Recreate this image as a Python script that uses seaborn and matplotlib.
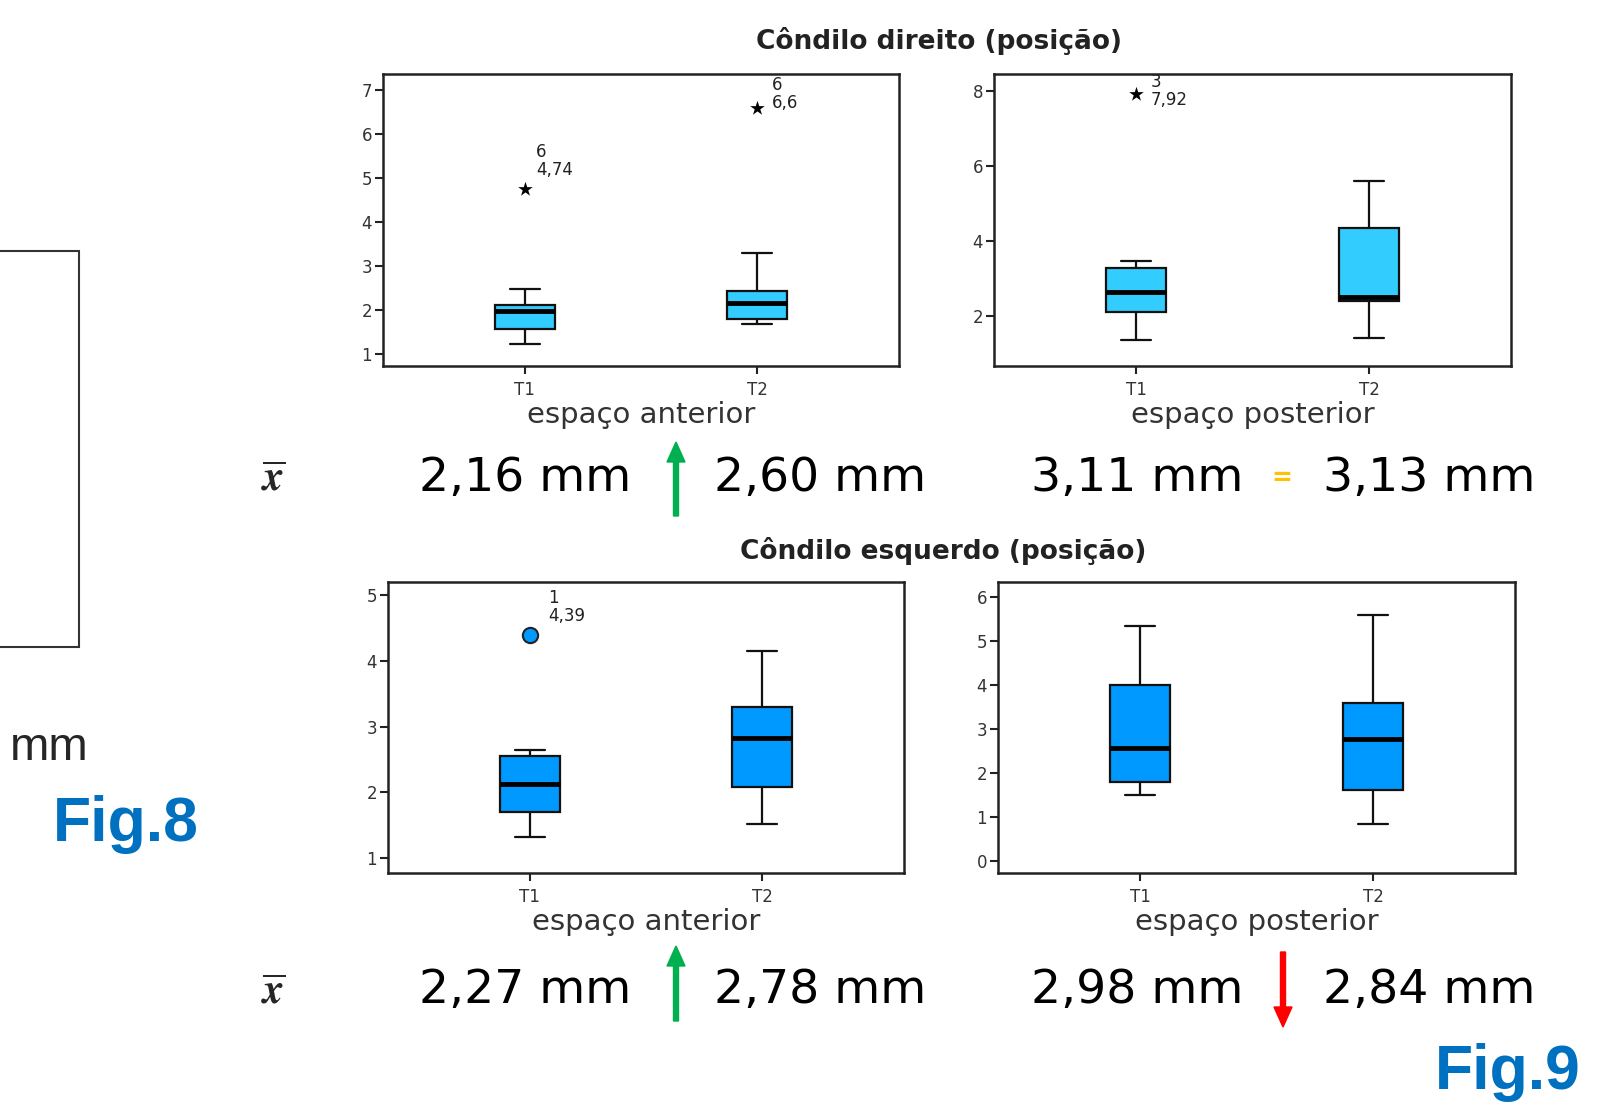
import numpy as np
import pandas as pd
import seaborn as sns
import matplotlib.pyplot as plt
from matplotlib.patches import Rectangle, FancyArrow

sns.set_theme(style="white")
plt.rcParams['font.family'] = ['DejaVu Sans']

W, H = 1613, 1107
tempos = ["T1", "T2"]

# five numbers per box: min, Q1, median, Q3, max
dir_ant_t1 = [1.22, 1.57, 1.98, 2.10, 2.47]
dir_ant_t2 = [1.67, 1.80, 2.15, 2.42, 3.30]
dir_post_t1 = [1.35, 2.10, 2.62, 3.28, 3.45]
dir_post_t2 = [1.40, 2.40, 2.50, 4.35, 5.60]
esq_ant_t1 = [1.32, 1.70, 2.13, 2.55, 2.65]
esq_ant_t2 = [1.52, 2.08, 2.83, 3.30, 4.15]
esq_post_t1 = [1.50, 1.78, 2.57, 4.00, 5.33]
esq_post_t2 = [0.83, 1.60, 2.77, 3.58, 5.58]

# outliers: (tempo, valor, caso)
dir_ant_out = [("T1", 4.74, "6"), ("T2", 6.6, "6")]
dir_post_out = [("T1", 7.92, "3")]
esq_ant_out = [("T1", 4.39, "1")]
esq_post_out = []

medias_dir = ["2,16 mm", "2,60 mm", "3,11 mm", "3,13 mm"]
medias_esq = ["2,27 mm", "2,78 mm", "2,98 mm", "2,84 mm"]

azul_claro = "#33CCFF"
azul = "#0099FF"

paineis = [
    dict(t1=dir_ant_t1, t2=dir_ant_t2, out=dir_ant_out, xlabel="espaço anterior", cor=azul_claro),
    dict(t1=dir_post_t1, t2=dir_post_t2, out=dir_post_out, xlabel="espaço posterior", cor=azul_claro),
    dict(t1=esq_ant_t1, t2=esq_ant_t2, out=esq_ant_out, xlabel="espaço anterior", cor=azul),
    dict(t1=esq_post_t1, t2=esq_post_t2, out=esq_post_out, xlabel="espaço posterior", cor=azul),
]
# layout in pixels (left, top, right, bottom) and per panel styling
estilos = [
    dict(box=(383, 74, 899, 366), ylim=(0.72, 7.37), yticks=range(1, 8), marker="*", offs=[(11, 10), (15, -4)]),
    dict(box=(994, 74, 1511, 366), ylim=(0.66, 8.44), yticks=range(2, 9, 2), marker="*", offs=[(15, -15)]),
    dict(box=(388, 582, 904, 873), ylim=(0.78, 5.19), yticks=range(1, 6), marker="o", offs=[(18, 10)]),
    dict(box=(998, 582, 1515, 873), ylim=(-0.28, 6.33), yticks=range(0, 7), marker="o", offs=[]),
]

fig = plt.figure(figsize=(W / 100, H / 100), dpi=100)

for p, s in zip(paineis, estilos):
    l, t, r, b = s["box"]
    ax = fig.add_axes([l / W, 1 - b / H, (r - l) / W, (b - t) / H])
    df = pd.DataFrame({"tempo": np.repeat(tempos, 5), "valor": p["t1"] + p["t2"]})
    sns.boxplot(data=df, x="tempo", y="valor", order=tempos, ax=ax, color=p["cor"],
                saturation=1, width=0.26, whis=np.inf, linecolor="#111111", linewidth=1.6,
                medianprops=dict(linewidth=3.5, color="black"))
    if p["out"]:
        odf = pd.DataFrame(p["out"], columns=["tempo", "valor", "caso"])
        if s["marker"] == "*":
            sns.stripplot(data=odf, x="tempo", y="valor", order=tempos, jitter=False, ax=ax,
                          marker="*", color="black", size=11, linewidth=0)
        else:
            sns.stripplot(data=odf, x="tempo", y="valor", order=tempos, jitter=False, ax=ax,
                          marker="o", color=p["cor"], size=11, edgecolor="#222222", linewidth=1.5)
        for (tm, v, caso), off in zip(p["out"], s["offs"]):
            ax.annotate(f"{caso}\n{v:g}".replace(".", ","), xy=(tempos.index(tm), v),
                        xytext=off, textcoords="offset pixels", ha="left", va="bottom",
                        fontsize=12, linespacing=1.0, color="#222222")
    ax.set_xlim(-0.61, 1.61)
    ax.set_ylim(*s["ylim"])
    ax.set_yticks(list(s["yticks"]))
    ax.set_xlabel(p["xlabel"], fontsize=21, color="#333333", labelpad=1)
    ax.set_ylabel("")
    for sp in ax.spines.values():
        sp.set_color("#222222")
        sp.set_linewidth(1.8)
    ax.tick_params(axis="both", direction="out", length=6, width=1.5, color="#222222",
                   labelsize=12, labelcolor="#333333", left=True, bottom=True, pad=2)
    ax.tick_params(axis="x", pad=5)

# titles
fig.text(939 / W, 1 - 41 / H, "Côndilo direito (posição)", ha="center", va="center",
         fontsize=19, fontweight="bold", color="#222222")
fig.text(943 / W, 1 - 551 / H, "Côndilo esquerdo (posição)", ha="center", va="center",
         fontsize=19, fontweight="bold", color="#222222")

# mean rows
xs_medias = [525, 820, 1137, 1429]
for y, medias in [(478, medias_dir), (991, medias_esq)]:
    fig.text(273 / W, 1 - y / H, r"$\overline{\boldsymbol{x}}$", ha="center", va="center",
             fontsize=30, math_fontfamily="stix")
    for x, m in zip(xs_medias, medias):
        fig.text(x / W, 1 - y / H, m, ha="center", va="center", fontsize=34, color="black")

fig.text(1282 / W, 1 - 478 / H, "=", ha="center", va="center", fontsize=18,
         fontweight="bold", color="#FFC000")


def seta(x, y0, y1, cor):
    # arrow in pixel coordinates, drawn in inches
    fig.patches.append(FancyArrow(x / 100, (H - y0) / 100, 0, (y0 - y1) / 100, width=0.05,
                                  head_width=0.18, head_length=0.2, length_includes_head=True,
                                  color=cor, transform=fig.dpi_scale_trans))


seta(676, 516, 442, "#00B050")
seta(676, 1021, 946, "#00B050")
seta(1283, 952, 1027, "#FF0000")

# partial box of previous figure
fig.patches.append(Rectangle((-0.05, (H - 647) / 100), 0.84, 3.96, fill=False,
                             edgecolor="#333333", linewidth=1.5, transform=fig.dpi_scale_trans))
fig.text(10 / W, 1 - 748 / H, "mm", ha="left", va="center", fontsize=34,
         family=["Liberation Sans", "DejaVu Sans"])
fig.text(126 / W, 1 - 825 / H, "Fig.8", ha="center", va="center", fontsize=45,
         fontweight="bold", color="#0070C0", family=["Liberation Sans", "DejaVu Sans"])
fig.text(1508 / W, 1 - 1073 / H, "Fig.9", ha="center", va="center", fontsize=45,
         fontweight="bold", color="#0070C0", family=["Liberation Sans", "DejaVu Sans"])

fig.savefig("out.png", dpi=100)
